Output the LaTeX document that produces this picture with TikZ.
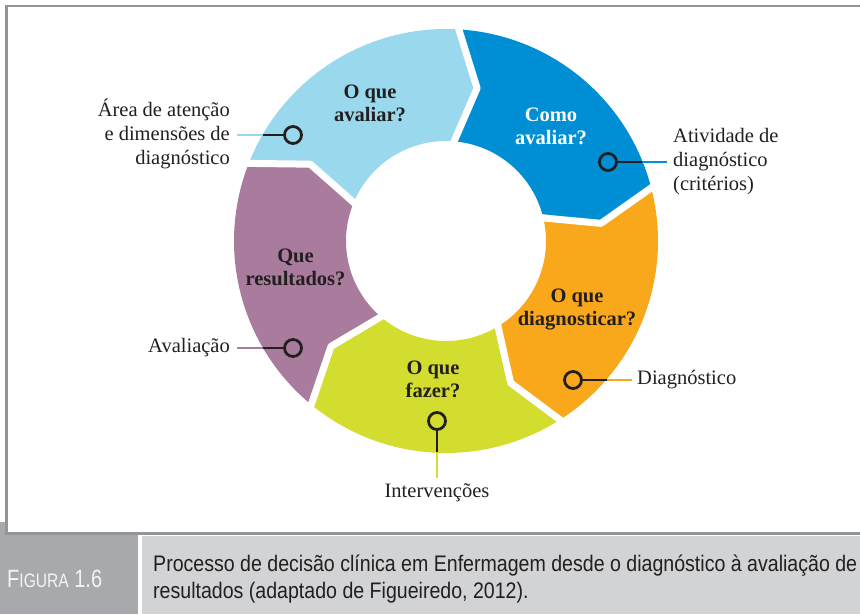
\documentclass[tikz,border=0pt]{standalone}
\usepackage{fontspec}
\setmainfont{Liberation Serif}
\newfontfamily\capfont[FakeStretch=0.87]{Liberation Sans}
\newfontfamily\figfont[FakeStretch=0.8]{Liberation Sans}
\definecolor{lblue}{HTML}{9AD8ED}
\definecolor{dblue}{HTML}{008FD5}
\definecolor{orng}{HTML}{F9A81C}
\definecolor{lgreen}{HTML}{D2DD30}
\definecolor{purp}{HTML}{A97B9C}
\definecolor{ink}{HTML}{231F20}
\definecolor{framegray}{HTML}{939598}
\definecolor{capdark}{HTML}{A7A9AC}
\definecolor{caplight}{HTML}{D1D3D4}
\definecolor{capwhite}{HTML}{F4F4F4}
\begin{document}
\begin{tikzpicture}[x=1pt,y=1pt,
  lab/.style={font=\fontsize{20.5}{24}\selectfont, text=ink, inner sep=0pt},
  qlab/.style={font=\fontsize{20.5}{23}\selectfont\bfseries, align=center, inner sep=0pt, text=ink},
  pin/.style={circle, draw=ink, line width=2.8pt, minimum size=17pt, inner sep=0pt},
  blk/.style={draw=ink, line width=2.8pt},
  lead/.style={line width=2.8pt},
  gap/.style={draw=white, line width=7pt, line join=round}
]
\useasboundingbox (0,0) rectangle (860,614);
% caption band
\fill[capdark] (0,0) rectangle (138,79);
\fill[capdark] (0,77) rectangle (6,92);
\fill[caplight] (142,0) rectangle (860,78);
\draw[framegray, line width=2.5pt] (870,608) -- (6.5,608) -- (6.5,80.5) -- (870,80.5);
\node[anchor=base west, inner sep=0pt, text=capwhite, font=\figfont] (fig) at (7,27)
  {\fontsize{25}{25}\selectfont F\fontsize{19.5}{19.5}\selectfont IGURA\fontsize{25}{25}\selectfont\ 1.6};
\node[anchor=base west, inner sep=0pt, text=ink, font=\capfont\fontsize{22.5}{28}\selectfont] (cap1) at (153,43)
  {Processo de decisão clínica em Enfermagem desde o diagnóstico à avaliação de};
\node[anchor=base west, inner sep=0pt, text=ink, font=\capfont\fontsize{22.5}{28}\selectfont] (cap2) at (153,16)
  {resultados (adaptado de Figueiredo, 2012).};
% ring
\begin{scope}[shift={(446,373)}]
  \foreach \a/\c in {87.5/dblue, 15.5/orng, -56.5/lgreen, -128.5/purp, 159.5/lblue}{
    \fill[\c] (\a:212) arc[start angle=\a, end angle=\a-72, radius=212]
      -- (\a-81:156) -- (\a-72:100) arc[start angle=\a-72, end angle=\a, radius=100]
      -- (\a-9:156) -- cycle;
  }
  \foreach \a in {87.5, 15.5, -56.5, -128.5, 159.5}{
    \draw[gap] (\a:222) -- (\a-9:156) -- (\a:90);
  }
\end{scope}
% segment labels
\node[qlab] (qLB) at (370,511) {O que\\avaliar?};
\node[qlab, text=white] (qDB) at (551,487.5) {Como\\avaliar?};
\node[qlab] (qPU) at (295.5,347) {Que\\resultados?};
\node[qlab] (qOR) at (577,305) {O que\\diagnosticar?};
\node[qlab] (qGR) at (433,235) {O que\\fazer?};
% pins
\node[pin] (pLB) at (293,479) {};
\node[pin] (pPU) at (293,266) {};
\node[pin] (pDB) at (608,452) {};
\node[pin] (pOR) at (573,234) {};
\node[pin] (pGR) at (437,193) {};
% outer labels
\node[lab, anchor=east, align=right] (tLB) at (230,480) {Área de atenção\\e dimensões de\\diagnóstico};
\node[lab, anchor=east] (tPU) at (230,266) {Avaliação};
\node[lab, anchor=west, align=left] (tDB) at (673,452) {Atividade de\\diagnóstico\\(critérios)};
\node[lab, anchor=west] (tOR) at (637,234) {Diagnóstico};
\node[lab, anchor=base] (tGR) at (437,117) {Intervenções};
% leaders
\coordinate (mLB) at (263,479);
\coordinate (mPU) at (263,266);
\coordinate (mDB) at (642,452);
\coordinate (mOR) at (607,234);
\coordinate (mGR) at (437,162);
\draw[lead, lblue] ([xshift=7pt]tLB.east |- mLB) -- (mLB);
\draw[blk] (mLB) -- (pLB);
\draw[lead, purp] ([xshift=7pt]tPU.east) -- (mPU);
\draw[blk] (mPU) -- (pPU);
\draw[lead, dblue] ([xshift=-6pt]tDB.west) -- (mDB);
\draw[blk] (mDB) -- (pDB);
\draw[lead, orng] ([xshift=-5pt]tOR.west) -- (mOR);
\draw[blk] (mOR) -- (pOR);
\draw[lead, lgreen] ([yshift=5pt]tGR.north) -- (mGR);
\draw[blk] (mGR) -- (pGR);
\end{tikzpicture}
\end{document}
